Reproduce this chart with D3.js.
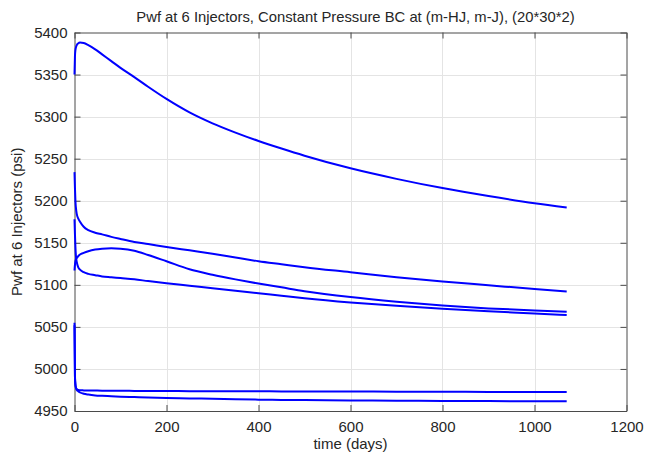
<!DOCTYPE html>
<html lang="en">

<head>
  <meta charset="UTF-8" />
  <title>Pwf at 6 Injectors</title>
  <script src="https://d3js.org/d3.v7.min.js"></script>
  <style>
    * {
      margin: 0;
      padding: 0;
    }

    body {
      background: #fff;
      font-family: "Liberation Sans", Arial, sans-serif;
    }
  </style>
</head>

<body>
  <script>
    // data
    const days = [0, 1, 2, 3, 5, 8, 12, 20, 30, 45, 60, 80, 100, 130, 160, 200, 250, 300, 350, 400, 450, 500, 600, 700, 800, 900, 1000, 1070];
    const inj1 = [5350, 5372, 5379, 5382, 5385, 5387, 5388, 5387.5, 5385, 5380, 5374, 5366, 5358, 5347, 5335.5, 5321, 5305, 5292, 5281, 5271, 5262, 5253.5, 5238.5, 5226, 5215, 5205.5, 5197, 5192];
    const inj2 = [5234, 5215, 5200, 5192, 5184, 5179, 5175, 5169, 5165, 5162, 5160, 5157, 5154.5, 5151, 5148.5, 5145, 5141, 5137, 5132.5, 5128, 5124.5, 5121, 5115, 5109, 5104, 5099.5, 5095, 5092];
    const inj3 = [5117, 5124, 5128, 5130, 5132, 5134, 5136, 5138, 5140, 5142, 5143, 5143.5, 5143, 5140.5, 5135.5, 5128, 5118.5, 5112, 5106.5, 5101.5, 5097, 5092.5, 5085.5, 5080, 5075.5, 5072, 5069.5, 5068];
    const inj4 = [5178, 5160, 5145, 5135, 5127, 5121, 5118, 5115, 5113, 5111.5, 5110, 5109, 5108, 5106.5, 5104.5, 5102, 5099, 5096, 5093, 5090, 5087, 5084, 5079, 5075, 5071.5, 5068.5, 5066, 5064];
    const inj5 = [5055, 4990, 4981, 4978, 4976, 4975, 4974.7, 4974.5, 4974.4, 4974.3, 4974.2, 4974.1, 4974, 4973.9, 4973.8, 4973.7, 4973.6, 4973.5, 4973.5, 4973.4, 4973.3, 4973.2, 4973.1, 4973, 4972.9, 4972.7, 4972.6, 4972.5];
    const inj6 = [5052, 4992, 4982, 4978, 4975, 4973.5, 4972, 4970.5, 4969.5, 4968.5, 4968, 4967.5, 4967, 4966.5, 4966, 4965.5, 4965, 4964.5, 4964, 4963.5, 4963.2, 4963, 4962.6, 4962.3, 4962, 4961.8, 4961.6, 4961.5];
    const series = [inj1, inj2, inj3, inj4, inj5, inj6];
    const xTicks = [0, 200, 400, 600, 800, 1000, 1200];
    const yTicks = [4950, 5000, 5050, 5100, 5150, 5200, 5250, 5300, 5350, 5400];

    const [w, h] = [655, 459];
    const m = { left: 74.5, right: 28.5, top: 32.5, bottom: 48 };
    const tick = 6;

    const svg = d3.select('body')
      .append('svg')
      .attr('width', w)
      .attr('height', h);

    const x = d3.scaleLinear().domain([0, 1200]).range([m.left, w - m.right]);
    const y = d3.scaleLinear().domain([4950, 5400]).range([h - m.bottom, m.top]);

    // grid
    const grid = svg.append('g').attr('stroke', '#e4e4e4').attr('stroke-width', 1);
    grid.selectAll('.gx').data(xTicks.slice(1, -1)).join('line')
      .attr('x1', d => Math.round(x(d)) + 0.5).attr('x2', d => Math.round(x(d)) + 0.5)
      .attr('y1', y(5400)).attr('y2', y(4950));
    grid.selectAll('.gy').data(yTicks.slice(1, -1)).join('line')
      .attr('y1', d => Math.round(y(d)) + 0.5).attr('y2', d => Math.round(y(d)) + 0.5)
      .attr('x1', x(0)).attr('x2', x(1200));

    // axes (MATLAB-like box with inward ticks)
    const fmt = d3.format('d');
    const axBottom = svg.append('g')
      .attr('transform', `translate(0, ${y(4950)})`)
      .call(d3.axisBottom(x).tickValues(xTicks).tickFormat(fmt).tickSizeInner(-tick).tickSizeOuter(0).tickPadding(10));
    const axTop = svg.append('g')
      .attr('transform', `translate(0, ${y(5400)})`)
      .call(d3.axisTop(x).tickValues(xTicks).tickSizeInner(-tick).tickSizeOuter(0).tickFormat(''));
    const axLeft = svg.append('g')
      .attr('transform', `translate(${x(0)}, 0)`)
      .call(d3.axisLeft(y).tickValues(yTicks).tickFormat(fmt).tickSizeInner(-tick).tickSizeOuter(0).tickPadding(7));
    const axRight = svg.append('g')
      .attr('transform', `translate(${x(1200)}, 0)`)
      .call(d3.axisRight(y).tickValues(yTicks).tickSizeInner(-tick).tickSizeOuter(0).tickFormat(''));

    [axBottom, axTop, axLeft, axRight].forEach(g => {
      g.selectAll('path, line').attr('stroke', '#4a4a4a');
      g.selectAll('text')
        .attr('fill', '#262626')
        .style('font-size', '15px')
        .style('font-family', '"Liberation Sans", Arial, sans-serif');
    });

    // curves
    const line = d3.line()
      .x((d, i) => x(days[i]))
      .y(d => y(d))
      .curve(d3.curveMonotoneX);

    svg.append('g')
      .selectAll('path')
      .data(series)
      .join('path')
      .attr('d', line)
      .attr('fill', 'none')
      .attr('stroke', '#0000ff')
      .attr('stroke-width', 2);

    // labels
    svg.append('text')
      .attr('x', (x(0) + x(1200)) / 2 + 5)
      .attr('y', 22)
      .attr('text-anchor', 'middle')
      .style('font-size', '14.8px')
      .attr('fill', '#262626')
      .text('Pwf at 6 Injectors, Constant Pressure BC at (m-HJ, m-J), (20*30*2)');

    svg.append('text')
      .attr('x', (x(0) + x(1200)) / 2)
      .attr('y', 449)
      .attr('text-anchor', 'middle')
      .style('font-size', '15px')
      .attr('fill', '#262626')
      .text('time (days)');

    svg.append('text')
      .attr('transform', `translate(22, ${(y(4950) + y(5400)) / 2}) rotate(-90)`)
      .attr('text-anchor', 'middle')
      .style('font-size', '15px')
      .attr('fill', '#262626')
      .text('Pwf at 6 Injectors (psi)');
  </script>
</body>

</html>
